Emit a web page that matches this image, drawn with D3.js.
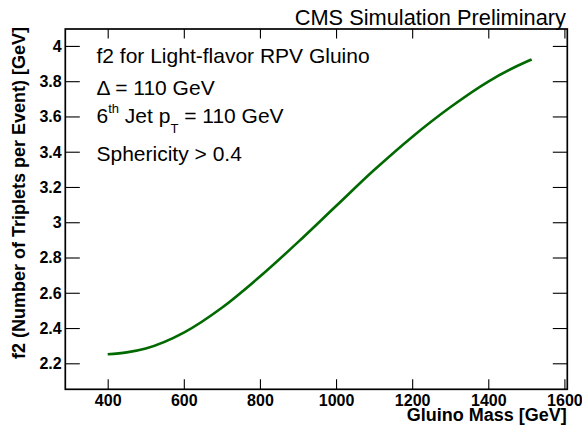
<!DOCTYPE html>
<html>
<head>
<meta charset="utf-8">
<script src="https://cdn.jsdelivr.net/npm/d3@7/dist/d3.min.js"></script>
<style>
  html, body { margin: 0; padding: 0; background: #fff; }
  svg { display: block; font-family: "Liberation Sans", Arial, Helvetica, sans-serif; }
</style>
</head>
<body>
<svg id="chart" width="582" height="430"></svg>
<script>
// ---- data ----
const massGeV  = [400, 450, 500, 600, 700, 800, 900, 1000, 1100, 1200, 1300, 1400, 1500, 1514];
const f2Values = [2.251, 2.262, 2.284, 2.374, 2.515, 2.692, 2.887, 3.092, 3.296, 3.484, 3.652, 3.798, 3.910, 3.923];

const xMajorTicks = [400, 600, 800, 1000, 1200, 1400, 1600];
const xMinorTicks = d3.range(300, 1601, 50);
const yMajorTicks = [2.2, 2.4, 2.6, 2.8, 3.0, 3.2, 3.4, 3.6, 3.8, 4.0];
const yMinorTicks = d3.range(2.1, 4.09, 0.05);
const yTickLabels = ["2.2", "2.4", "2.6", "2.8", "3", "3.2", "3.4", "3.6", "3.8", "4"];

const titleText = "CMS Simulation Preliminary";
const xTitle = "Gluino Mass [GeV]";
const yTitle = "f2 (Number of Triplets per Event) [GeV]";

// ---- layout ----
const L = 65.3, R = 567.3, T = 29, B = 389.3;
const svg = d3.select("#chart");

const x = d3.scaleLinear().domain([288.6, 1607.6]).range([L, R]);
const y = d3.scaleLinear().domain([2.0525, 4.096]).range([B, T]);

// bottom axis
const gB = svg.append("g").attr("transform", `translate(0,${B})`);
gB.call(d3.axisBottom(x).tickValues(xMinorTicks).tickSize(-5).tickFormat(""));
gB.call(d3.axisBottom(x).tickValues(xMajorTicks).tickSize(-10).tickFormat(d3.format("d")));
gB.selectAll(".domain").remove();
gB.selectAll("text").attr("y", 5.5).attr("dy", "0.71em")
  .attr("font-size", 16).attr("font-weight", "bold").attr("fill", "#000")
  .attr("font-family", "Liberation Sans, Arial, sans-serif");

// top axis (ticks only)
const gT = svg.append("g").attr("transform", `translate(0,${T})`);
gT.call(d3.axisTop(x).tickValues(xMinorTicks).tickSize(-5).tickFormat(""));
gT.call(d3.axisTop(x).tickValues(xMajorTicks).tickSize(-9.5).tickFormat(""));
gT.selectAll(".domain").remove();

// left axis
const gL = svg.append("g").attr("transform", `translate(${L},0)`);
gL.call(d3.axisLeft(y).tickValues(yMinorTicks).tickSize(-7).tickFormat(""));
gL.call(d3.axisLeft(y).tickValues(yMajorTicks).tickSize(-14.5)
  .tickFormat((d, i) => yTickLabels[i]));
gL.selectAll(".domain").remove();
gL.selectAll("text").attr("x", -3.6).attr("dy", "0.34em")
  .attr("font-size", 16).attr("font-weight", "bold").attr("fill", "#000")
  .attr("font-family", "Liberation Sans, Arial, sans-serif");

// right axis (ticks only)
const gR = svg.append("g").attr("transform", `translate(${R},0)`);
gR.call(d3.axisRight(y).tickValues(yMinorTicks).tickSize(-7).tickFormat(""));
gR.call(d3.axisRight(y).tickValues(yMajorTicks).tickSize(-14.5).tickFormat(""));
gR.selectAll(".domain").remove();

svg.selectAll(".tick line").attr("stroke", "#000").attr("stroke-width", 1.1);

// frame
svg.append("rect").attr("x", L).attr("y", T).attr("width", R - L).attr("height", B - T)
  .attr("fill", "none").attr("stroke", "#000").attr("stroke-width", 1.7);

// curve
const line = d3.line().x((d, i) => x(massGeV[i])).y(d => y(d)).curve(d3.curveMonotoneX);
svg.append("path").datum(f2Values).attr("d", line)
  .attr("fill", "none").attr("stroke", "#006a00").attr("stroke-width", 2.6);

// title
svg.append("text").attr("x", 566).attr("y", 25).attr("text-anchor", "end")
  .attr("font-size", 21.8).attr("fill", "#000").text(titleText);

// axis titles
svg.append("text").attr("x", 566.7).attr("y", 421).attr("text-anchor", "end")
  .attr("font-size", 18).attr("font-weight", "bold").text(xTitle);
svg.append("text").attr("transform", "translate(24.5,27) rotate(-90)").attr("text-anchor", "end")
  .attr("font-size", 18).attr("font-weight", "bold").text(yTitle);

// legend text
const lx = 96.5, fs = 21;
svg.append("text").attr("x", lx).attr("y", 62.5).attr("font-size", fs).text("f2 for Light-flavor RPV Gluino");
svg.append("text").attr("x", lx).attr("y", 95).attr("font-size", fs).text("\u0394 = 110 GeV");
const t3 = svg.append("text").attr("x", lx).attr("y", 123.3).attr("font-size", fs);
t3.append("tspan").text("6");
t3.append("tspan").attr("font-size", 13).attr("dy", -10).text("th");
t3.append("tspan").attr("dy", 10).text(" Jet p");
t3.append("tspan").attr("font-size", 13).attr("dy", 10).text("T");
t3.append("tspan").attr("dy", -10).text(" = 110 GeV");
svg.append("text").attr("x", lx).attr("y", 161).attr("font-size", fs).text("Sphericity > 0.4");
</script>
</body>
</html>
